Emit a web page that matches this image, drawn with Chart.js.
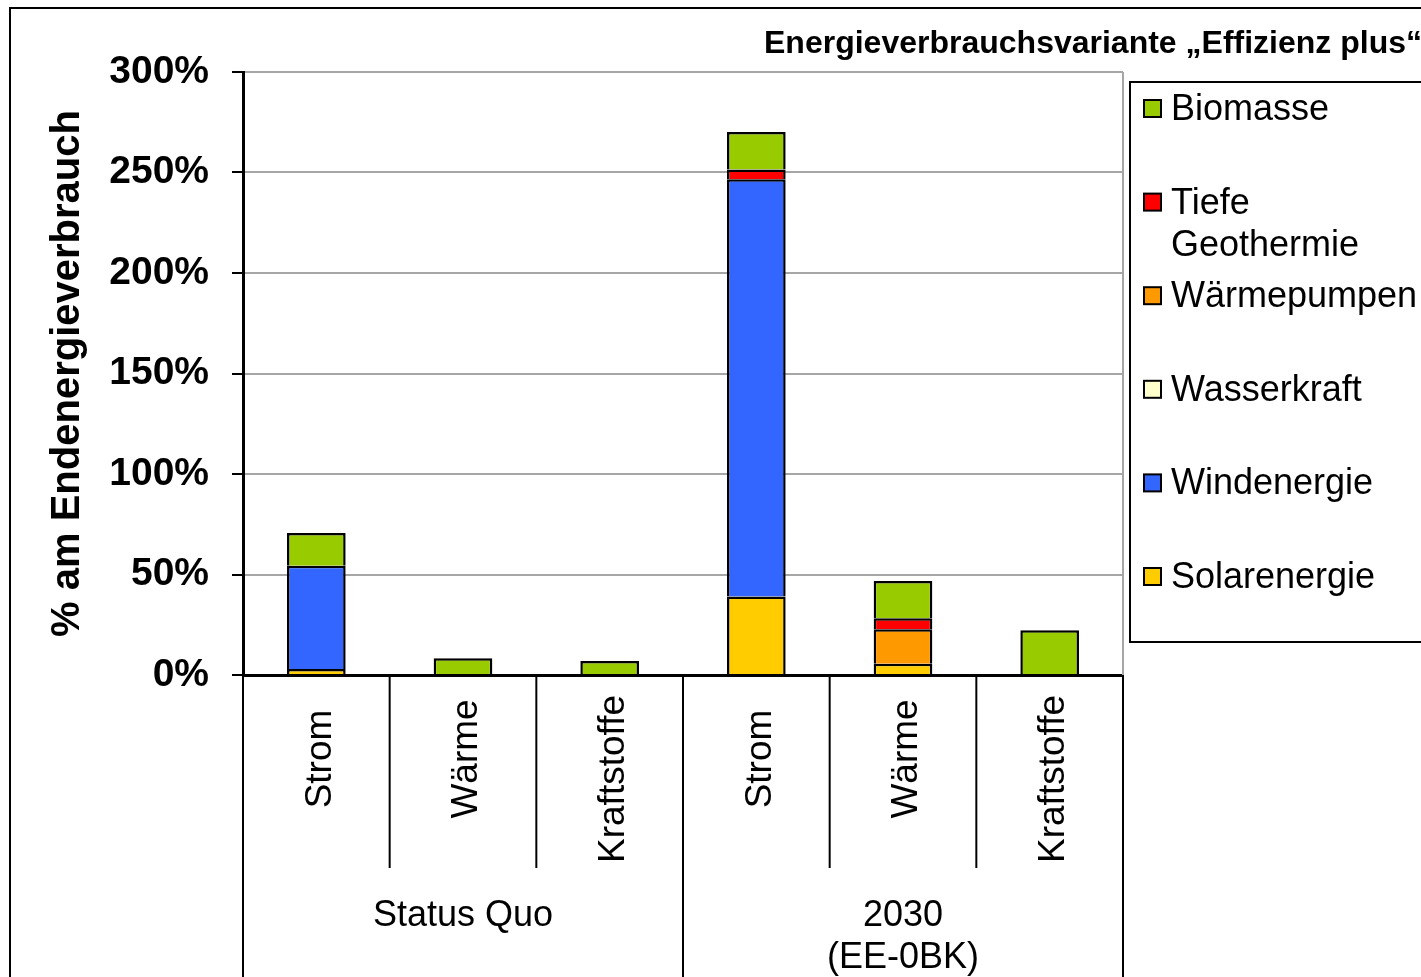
<!DOCTYPE html>
<html>
<head>
<meta charset="utf-8">
<script src="https://cdn.jsdelivr.net/npm/chart.js@4"></script>
<style>
    html, body { margin: 0; padding: 0; background: #fff; }
    #chart { display: block; }
</style>
</head>
<body>
<canvas id="chart" width="1421" height="977"></canvas>
<script>
// Daten (in %)
const categories = ['Strom', 'Wärme', 'Kraftstoffe', 'Strom', 'Wärme', 'Kraftstoffe'];
const groups = [['Status Quo'], ['2030', '(EE-0BK)']];
const groupSize = 3;

const solarenergie = [3, 0, 0, 39, 5.6, 0];
const windenergie = [51.3, 0, 0, 207.6, 0, 0];
const wasserkraft = [0, 0, 0, 0, 0, 0];
const waermepumpen = [0, 0, 0, 0, 17.2, 0];
const geothermie = [0, 0, 0, 4.9, 5.4, 0];
const biomasse = [16.3, 8.3, 7, 18.7, 18.6, 22.3];

const yMax = 300;
const yStep = 50;
const title = 'Energieverbrauchsvariante „Effizienz plus“';
const yTitle = '% am Endenergieverbrauch';

const FONT = '"Liberation Sans", Arial, Helvetica, sans-serif';

// Reihenfolge von unten nach oben
const series = [
    { label: ['Solarenergie'], data: solarenergie, color: '#FFCC00' },
    { label: ['Windenergie'], data: windenergie, color: '#3366FF' },
    { label: ['Wasserkraft'], data: wasserkraft, color: '#FFFFCC' },
    { label: ['Wärmepumpen'], data: waermepumpen, color: '#FF9900' },
    { label: ['Tiefe', 'Geothermie'], data: geothermie, color: '#FF0000' },
    { label: ['Biomasse'], data: biomasse, color: '#99CC00' }
];

const datasets = series.map(s => ({
    label: s.label.join(' '),
    lines: s.label,
    data: s.data.map(v => v === 0 ? null : v),
    backgroundColor: s.color,
    borderColor: '#000',
    borderWidth: { top: 2.5, left: 2.5, right: 2.5, bottom: 0 },
    borderSkipped: false,
    inflateAmount: 0,
    barPercentage: 0.4,
    categoryPercentage: 1.0
}));

// Rahmen, Kategorien, Gruppen und Legende
const decorations = {
    id: 'decorations',
    beforeDatasetsDraw(chart) {
        const ctx = chart.ctx;
        const area = chart.chartArea;
        ctx.save();
        ctx.strokeStyle = '#a6a6a6';
        ctx.lineWidth = 2;
        ctx.beginPath();
        ctx.moveTo(area.right, area.top);
        ctx.lineTo(area.right, area.bottom);
        ctx.stroke();
        ctx.restore();
    },
    afterDraw(chart) {
        const ctx = chart.ctx;
        const area = chart.chartArea;
        const x = chart.scales.x;
        const half = (x.getPixelForValue(1) - x.getPixelForValue(0)) / 2;
        ctx.save();

        // äußerer Rahmen
        ctx.strokeStyle = '#000';
        ctx.lineWidth = 2;
        ctx.strokeRect(10, 8, 1430, 990);

        // Titel
        ctx.fillStyle = '#000';
        ctx.font = 'bold 32px ' + FONT;
        ctx.textAlign = 'right';
        ctx.textBaseline = 'alphabetic';
        ctx.fillText(title, 1422, 53);

        // Trennlinien der Achse
        ctx.lineWidth = 2;
        for (let i = 0; i <= categories.length; i++) {
            const px = x.getPixelForValue(0) - half + i * 2 * half;
            const bottom = (i % groupSize === 0) ? 977 : 868;
            ctx.beginPath();
            ctx.moveTo(px, area.bottom);
            ctx.lineTo(px, bottom);
            ctx.stroke();
        }

        // Kategorien (gedreht)
        ctx.font = '37px ' + FONT;
        categories.forEach((c, i) => {
            const w = ctx.measureText(c).width;
            const cy = Math.max(759, area.bottom + 20 + w / 2);
            ctx.save();
            ctx.translate(x.getPixelForValue(i) + 4, cy);
            ctx.rotate(-Math.PI / 2);
            ctx.textAlign = 'center';
            ctx.textBaseline = 'middle';
            ctx.fillText(c, 0, 0);
            ctx.restore();
        });

        // Gruppen
        ctx.font = '36px ' + FONT;
        ctx.textAlign = 'center';
        ctx.textBaseline = 'alphabetic';
        groups.forEach((g, gi) => {
            const first = x.getPixelForValue(gi * groupSize) - half;
            const last = x.getPixelForValue(gi * groupSize + groupSize - 1) + half;
            g.forEach((line, li) => {
                ctx.fillText(line, (first + last) / 2, 926 + li * 42);
            });
        });

        // Legende
        ctx.strokeRect(1130, 82, 400, 560);
        ctx.font = '36px ' + FONT;
        ctx.textAlign = 'left';
        ctx.textBaseline = 'middle';
        const legendItems = chart.data.datasets.slice().reverse();
        legendItems.forEach((ds, i) => {
            const cy = 109 + i * 93.6;
            ctx.fillStyle = ds.backgroundColor;
            ctx.fillRect(1144, cy - 9, 17, 17);
            ctx.strokeStyle = '#000';
            ctx.lineWidth = 2;
            ctx.strokeRect(1144, cy - 9, 17, 17);
            ctx.fillStyle = '#000';
            ds.lines.forEach((line, li) => {
                ctx.fillText(line, 1171, cy + 1 + li * 42);
            });
        });

        ctx.restore();
    }
};

new Chart(document.getElementById('chart'), {
    type: 'bar',
    data: {
        labels: categories,
        datasets: datasets
    },
    options: {
        responsive: false,
        animation: false,
        devicePixelRatio: 1,
        layout: {
            padding: { top: 72, right: 298, left: 0, bottom: 0 }
        },
        plugins: {
            legend: { display: false },
            tooltip: { enabled: false }
        },
        scales: {
            x: {
                stacked: true,
                grid: { display: false },
                ticks: { display: false },
                border: { display: true, color: '#000', width: 3 },
                afterFit(scale) { scale.height = 302; }
            },
            y: {
                stacked: true,
                min: 0,
                max: yMax,
                ticks: {
                    stepSize: yStep,
                    padding: 23,
                    color: '#000',
                    font: { family: FONT, size: 39, weight: 'bold' },
                    callback: v => v + '%'
                },
                grid: {
                    color: '#a6a6a6',
                    lineWidth: 2,
                    tickLength: 11,
                    tickColor: '#000',
                    tickWidth: 2
                },
                border: { display: true, color: '#000', width: 3 },
                title: {
                    display: true,
                    text: yTitle,
                    color: '#000',
                    font: { family: FONT, size: 40, weight: 'bold' },
                    padding: { top: 44, bottom: 0 }
                },
                afterFit(scale) { scale.width = 243; }
            }
        }
    },
    plugins: [decorations]
});
</script>
</body>
</html>
